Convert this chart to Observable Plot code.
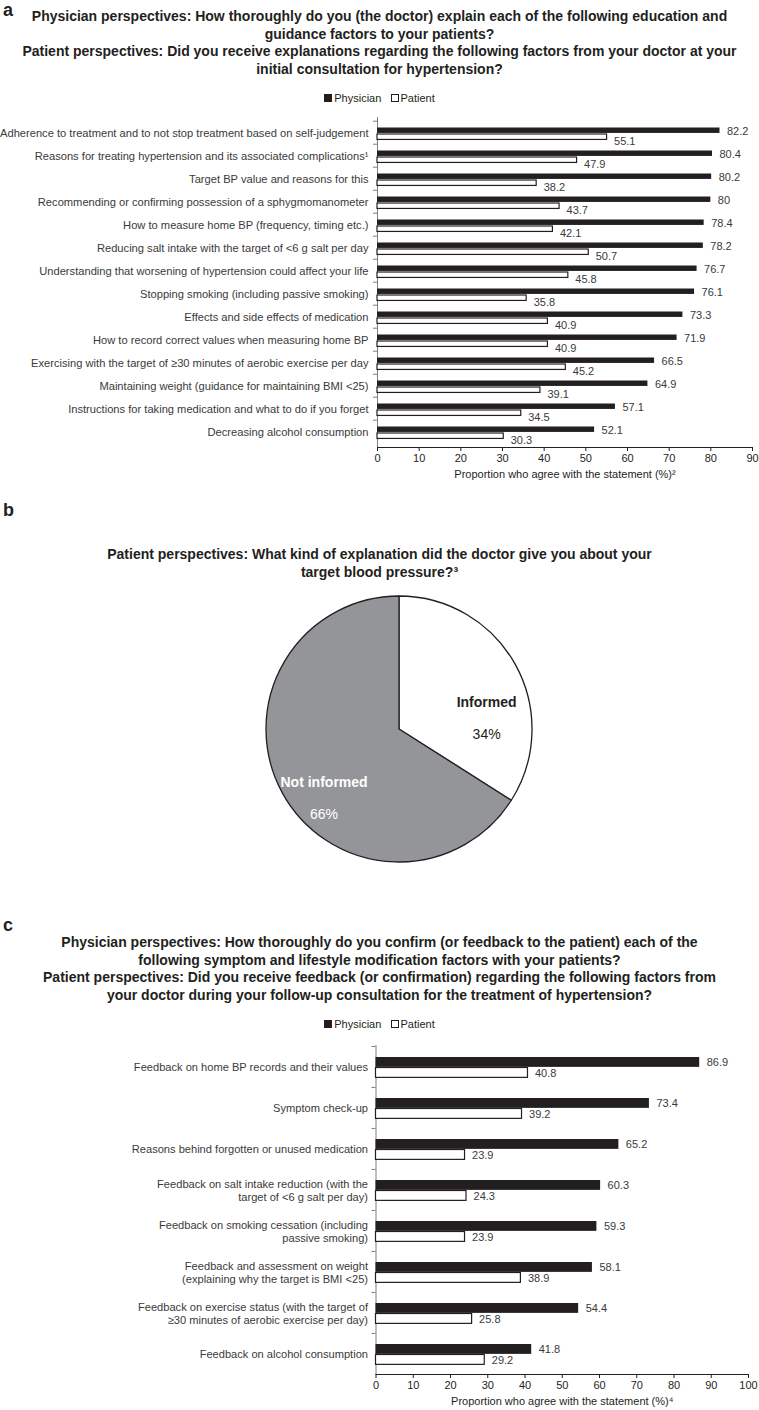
<!DOCTYPE html>
<html><head><meta charset="utf-8">
<script src="https://cdn.jsdelivr.net/npm/d3@7"></script>
<script src="https://cdn.jsdelivr.net/npm/@observablehq/plot@0.6"></script>
<style>
body{margin:0;background:#fff;font-family:"Liberation Sans",Arial,sans-serif;color:#231f20}
#root{position:relative;width:759px;height:1410px;overflow:hidden;background:#fff}
.abs{position:absolute}
.panel{left:3px;font-weight:bold;font-size:18px;line-height:20.5px}
.title{left:0;width:759px;text-align:center;font-family:"Liberation Sans Narrow","Arial Narrow","Liberation Sans",Arial,sans-serif;font-weight:bold;font-size:14px;line-height:17.5px}
.legend{left:0;width:759px;text-align:center;font-size:11px;line-height:14px;color:#231f20}
.sw{display:inline-block;width:6px;height:6px;border:1px solid #231f20;margin-right:2px;vertical-align:0px}
</style></head>
<body><div id="root">
<div class="abs panel" style="top:0px">a</div>
<div class="abs title" style="top:8px">Physician perspectives: How thoroughly do you (the doctor) explain each of the following education and<br>guidance factors to your patients?<br>Patient perspectives: Did you receive explanations regarding the following factors from your doctor at your<br>initial consultation for hypertension?</div>
<div class="abs legend" style="top:91px"><span class="sw" style="background:#231f20"></span>Physician&nbsp;&nbsp;&nbsp;<span class="sw" style="background:#fff"></span>Patient</div>
<div class="abs" id="chartA" style="top:110px;left:0"></div>
<div class="abs panel" style="top:500px">b</div>
<div class="abs title" style="top:546px">Patient perspectives: What kind of explanation did the doctor give you about your<br>target blood pressure?³</div>
<div class="abs" id="chartB" style="top:590px;left:0"></div>
<div class="abs panel" style="top:915px">c</div>
<div class="abs title" style="top:934px">Physician perspectives: How thoroughly do you confirm (or feedback to the patient) each of the<br>following symptom and lifestyle modification factors with your patients?<br>Patient perspectives: Did you receive feedback (or confirmation) regarding the following factors from<br>your doctor during your follow-up consultation for the treatment of hypertension?</div>
<div class="abs legend" style="top:1017px"><span class="sw" style="background:#231f20"></span>Physician&nbsp;&nbsp;&nbsp;<span class="sw" style="background:#fff"></span>Patient</div>
<div class="abs" id="chartC" style="top:1040px;left:0"></div>
</div>
<script>
// ---------- Data ----------
const topicsA = [
  "Adherence to treatment and to not stop treatment based on self-judgement",
  "Reasons for treating hypertension and its associated complications¹",
  "Target BP value and reasons for this",
  "Recommending or confirming possession of a sphygmomanometer",
  "How to measure home BP (frequency, timing etc.)",
  "Reducing salt intake with the target of <6 g salt per day",
  "Understanding that worsening of hypertension could affect your life",
  "Stopping smoking (including passive smoking)",
  "Effects and side effects of medication",
  "How to record correct values when measuring home BP",
  "Exercising with the target of ≥30 minutes of aerobic exercise per day",
  "Maintaining weight (guidance for maintaining BMI <25)",
  "Instructions for taking medication and what to do if you forget",
  "Decreasing alcohol consumption"
];
const physicianA = [82.2, 80.4, 80.2, 80, 78.4, 78.2, 76.7, 76.1, 73.3, 71.9, 66.5, 64.9, 57.1, 52.1];
const patientA   = [55.1, 47.9, 38.2, 43.7, 42.1, 50.7, 45.8, 35.8, 40.9, 40.9, 45.2, 39.1, 34.5, 30.3];
const ticksA = [0, 10, 20, 30, 40, 50, 60, 70, 80, 90];
const xLabelA = "Proportion who agree with the statement (%)²";

const pieLabels = ["Informed", "Not informed"];
const pieValues = [34, 66];
const pieText = ["34%", "66%"];

const topicsC = [
  "Feedback on home BP records and their values",
  "Symptom check-up",
  "Reasons behind forgotten or unused medication",
  "Feedback on salt intake reduction (with the\ntarget of <6 g salt per day)",
  "Feedback on smoking cessation (including\npassive smoking)",
  "Feedback and assessment on weight\n(explaining why the target is BMI <25)",
  "Feedback on exercise status (with the target of\n≥30 minutes of aerobic exercise per day)",
  "Feedback on alcohol consumption"
];
const physicianC = [86.9, 73.4, 65.2, 60.3, 59.3, 58.1, 54.4, 41.8];
const patientC   = [40.8, 39.2, 23.9, 24.3, 23.9, 38.9, 25.8, 29.2];
const ticksC = [0, 10, 20, 30, 40, 50, 60, 70, 80, 90, 100];
const xLabelC = "Proportion who agree with the statement (%)⁴";

// ---------- Styles ----------
const INK = "#231f20";
const AXIS = "#7f7f7f";
const PIEGRAY = "#939598";
const FONT = "'Liberation Sans', Arial, sans-serif";

function barChart(o) {
  const phys = o.topics.map((t, i) => ({topic: t, value: o.phys[i]}));
  const pat = o.topics.map((t, i) => ({topic: t, value: o.pat[i]}));
  const plotH = o.height - o.marginTop - o.marginBottom;
  const bw = plotH / o.topics.length;
  const plotW = 759 - o.marginLeft - o.marginRight;
  const tickLen = 4 * o.xmax / plotW; // 4px expressed in data units
  return Plot.plot({
    width: 759, height: o.height,
    marginLeft: o.marginLeft, marginRight: o.marginRight,
    marginTop: o.marginTop, marginBottom: o.marginBottom,
    style: {fontFamily: FONT, fontSize: "11px", color: INK, background: "transparent", overflow: "visible"},
    x: {domain: [0, o.xmax], ticks: o.ticks, tickSize: 4, tickPadding: 3, line: true,
        label: o.xLabel, labelAnchor: "center", labelOffset: o.labelOffset, labelArrow: "none"},
    y: {domain: o.topics, padding: 0, axis: null},
    marks: [
      Plot.ruleX([0], {stroke: AXIS}),
      Plot.ruleY(o.topics, {y: d => d, x1: -tickLen, x2: 0, dy: -bw / 2, stroke: AXIS}),
      Plot.barX(phys, {x: "value", y: "topic", fill: INK,
        insetTop: o.physBand[0], insetBottom: bw - o.physBand[1]}),
      Plot.barX(pat, {x: "value", y: "topic", fill: "white", stroke: INK, strokeWidth: 1.2,
        insetTop: o.patBand[0], insetBottom: bw - o.patBand[1]}),
      Plot.text(phys, {x: "value", y: "topic", text: d => String(d.value), dx: 7, dy: o.physDy,
        textAnchor: "start", fill: "#3a3a3a", fontSize: 11}),
      Plot.text(pat, {x: "value", y: "topic", text: d => String(d.value), dx: 7, dy: o.patDy,
        textAnchor: "start", fill: "#3a3a3a", fontSize: 11}),
      Plot.text(o.topics, {x: 0, y: d => d, text: d => d, dx: -o.labelGap, textAnchor: "end",
        fill: "#3a3a3a", fontSize: o.labelSize, lineHeight: 1.2})
    ]
  });
}

const chartA = barChart({
  topics: topicsA, phys: physicianA, pat: patientA, ticks: ticksA, xmax: 90, xLabel: xLabelA,
  height: 375, marginTop: 7, marginBottom: 38, marginLeft: 377, marginRight: 7,
  physBand: [6.5, 12.5], patBand: [13, 19], physDy: -2, patDy: 8, labelGap: 9, labelOffset: 30, labelSize: 11.15
});
document.getElementById("chartA").append(chartA);

const chartC = barChart({
  topics: topicsC, phys: physicianC, pat: patientC, ticks: ticksC, xmax: 100, xLabel: xLabelC,
  height: 370, marginTop: 5, marginBottom: 36, marginLeft: 375.5, marginRight: 11,
  physBand: [11, 21], patBand: [21.5, 31.5], physDy: -5, patDy: 6.5, labelGap: 8, labelOffset: 30, labelSize: 11.1
});
document.getElementById("chartC").append(chartC);

// ---------- Pie ----------
const pieData = d3.pie().sort(null)(pieValues);
const labelR = [0.66, 0.77];
const labelAngleShift = [0.38, -0.24];
const pieLabelRows = pieData.map((a, i) => {
  const ang = (a.startAngle + a.endAngle) / 2 + labelAngleShift[i];
  return {name: pieLabels[i], pct: pieText[i], px: Math.sin(ang) * labelR[i], py: Math.cos(ang) * labelR[i]};
});
function pieMark(index, scales, values, dims) {
  const cx = scales.x(0), cy = scales.y(0), r = scales.x(1) - scales.x(0);
  const arc = d3.arc().innerRadius(0).outerRadius(r);
  const g = d3.create("svg:g").attr("transform", `translate(${cx},${cy})`);
  g.selectAll("path").data(pieData).join("path")
    .attr("d", arc)
    .attr("fill", (d, i) => i === 0 ? "white" : PIEGRAY)
    .attr("stroke", INK).attr("stroke-width", 1.3).attr("stroke-linejoin", "round");
  return g.node();
}
const chartB = Plot.plot({
  width: 759, height: 280, marginLeft: 266, marginRight: 227, marginTop: 6, marginBottom: 8,
  style: {fontFamily: FONT, background: "transparent", overflow: "visible"},
  x: {domain: [-1, 1], axis: null},
  y: {domain: [-1, 1], axis: null},
  marks: [
    pieMark,
    Plot.text(pieLabelRows, {x: "px", y: "py", text: "name", dy: -16, fontWeight: "bold", fontSize: 14,
      fill: d => d.name === "Informed" ? INK : "white"}),
    Plot.text(pieLabelRows, {x: "px", y: "py", text: "pct", dy: 16, fontSize: 14,
      fill: d => d.name === "Informed" ? INK : "white"})
  ]
});
document.getElementById("chartB").append(chartB);
</script>
</body></html>
